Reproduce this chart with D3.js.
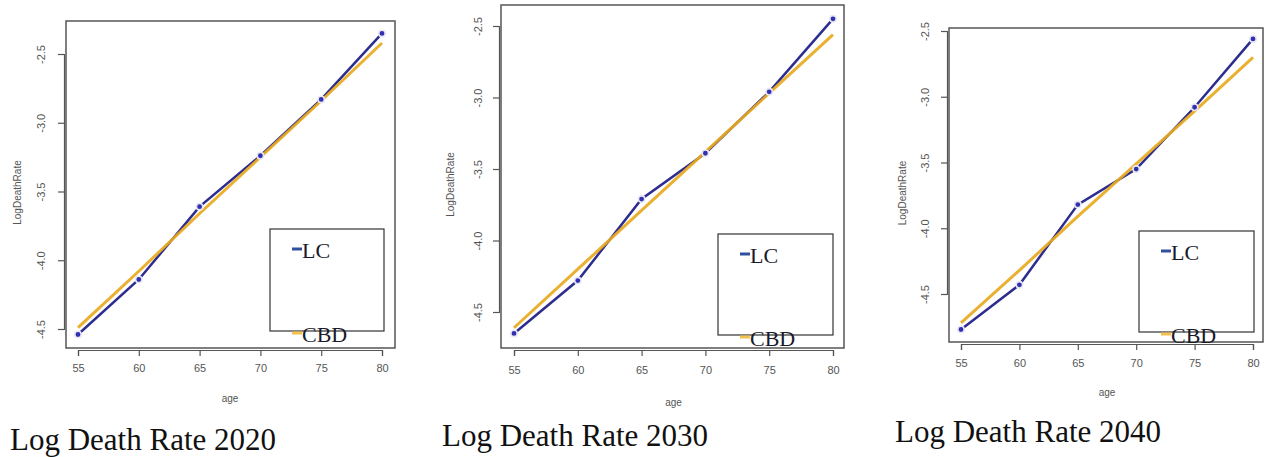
<!DOCTYPE html>
<html>
<head>
<meta charset="utf-8">
<script src="https://cdn.jsdelivr.net/npm/d3@7"></script>
<style>
  body { margin: 0; background: #fff; }
  svg { display: block; }
</style>
</head>
<body>
<svg id="chart" width="1265" height="457"></svg>
<script>
// ages on the x axis
const ages = [55, 60, 65, 70, 75, 80];
const yTicks = [-4.5, -4.0, -3.5, -3.0, -2.5];

// LC model (blue, with points)
const lc2020 = [-4.54, -4.14, -3.61, -3.24, -2.83, -2.35];
const lc2030 = [-4.65, -4.28, -3.71, -3.39, -2.96, -2.45];
const lc2040 = [-4.77, -4.43, -3.82, -3.55, -3.08, -2.56];

// CBD model (orange, straight)
const cbd2020 = [-4.49, -4.08, -3.66, -3.25, -2.84, -2.42];
const cbd2030 = [-4.61, -4.20, -3.79, -3.38, -2.97, -2.56];
const cbd2040 = [-4.72, -4.32, -3.91, -3.51, -3.11, -2.70];

const titles = ["Log Death Rate 2020", "Log Death Rate 2030", "Log Death Rate 2040"];

// pixel layout of each panel (box, tick anchors, legend, title)
var panels = [
    { lc: lc2020, cbd: cbd2020, title: titles[0],
      box: [66, 21, 395, 348], x55: 78, x80: 382, y45: 329, y25: 54,
      tickLabX: 45, tickLabY: 368, ageY: 398, ylabX: 17,
      legend: [270, 229, 384, 331], titleX: 10, titleY: 450 },
    { lc: lc2030, cbd: cbd2030, title: titles[1],
      box: [501, 5, 844, 348], x55: 514, x80: 833, y45: 312, y25: 26,
      tickLabX: 482, tickLabY: 370, ageY: 402, ylabX: 450,
      legend: [718, 234, 833, 335], titleX: 442, titleY: 446 },
    { lc: lc2040, cbd: cbd2040, title: titles[2],
      box: [949, 28, 1263, 342], x55: 961, x80: 1253, y45: 294, y25: 31,
      tickLabX: 929, tickLabY: 363, ageY: 392, ylabX: 902,
      legend: [1139, 231, 1254, 332], titleX: 895, titleY: 442 }
];

var svg = d3.select("#chart");
var axisColor = "#555";
var labelColor = "#555";

function drawPanel(p) {
    var g = svg.append("g");
    var b = p.box;

    var x = d3.scaleLinear().domain([55, 80]).range([p.x55, p.x80]);
    var y = d3.scaleLinear().domain([-4.5, -2.5]).range([p.y45, p.y25]);

    // plot frame
    g.append("rect")
        .attr("x", b[0]).attr("y", b[1])
        .attr("width", b[2] - b[0]).attr("height", b[3] - b[1])
        .attr("fill", "none")
        .attr("stroke", axisColor)
        .attr("stroke-width", 1.5);

    // x axis (ticks outside box, like R)
    var xAxis = d3.axisBottom(x).tickValues(ages).tickSize(6).tickFormat(d3.format("d"));
    var xg = g.append("g")
        .attr("transform", "translate(0," + (b[3] + 2) + ")")
        .call(xAxis);
    xg.select(".domain").attr("stroke", axisColor).attr("stroke-width", 1.2);
    xg.selectAll(".tick line").attr("stroke", axisColor).attr("stroke-width", 1.2);
    xg.selectAll(".tick text")
        .attr("y", p.tickLabY - b[3] - 2)
        .attr("dy", "0.35em")
        .attr("fill", labelColor)
        .style("font-family", "Arial, 'Liberation Sans', sans-serif")
        .style("font-size", "11px");

    // y axis
    var yAxis = d3.axisLeft(y).tickValues(yTicks).tickSize(6).tickFormat(d3.format(".1f"));
    var yg = g.append("g")
        .attr("transform", "translate(" + (b[0] - 2) + ",0)")
        .call(yAxis);
    yg.select(".domain").attr("stroke", axisColor).attr("stroke-width", 1.2);
    yg.selectAll(".tick line").attr("stroke", axisColor).attr("stroke-width", 1.2);
    yg.selectAll(".tick text").remove();
    yg.selectAll(".tick").append("text")
        .attr("transform", "translate(" + (p.tickLabX - b[0] + 2) + ",0) rotate(-90)")
        .attr("text-anchor", "middle")
        .attr("fill", labelColor)
        .style("font-family", "Arial, 'Liberation Sans', sans-serif")
        .style("font-size", "11px")
        .text(function (d) { return d3.format(".1f")(d).replace("−", "-"); });

    // axis titles
    g.append("text")
        .attr("x", (p.x55 + p.x80) / 2)
        .attr("y", p.ageY)
        .attr("text-anchor", "middle")
        .attr("dy", "0.35em")
        .attr("fill", labelColor)
        .style("font-family", "Arial, 'Liberation Sans', sans-serif")
        .style("font-size", "10px")
        .text("age");
    g.append("text")
        .attr("transform", "translate(" + p.ylabX + "," + ((b[1] + b[3]) / 2 + 8) + ") rotate(-90)")
        .attr("text-anchor", "middle")
        .attr("dy", "0.35em")
        .attr("fill", labelColor)
        .style("font-family", "Arial, 'Liberation Sans', sans-serif")
        .style("font-size", "10px")
        .text("LogDeathRate");

    var line = d3.line()
        .x(function (d, i) { return x(ages[i]); })
        .y(function (d) { return y(d); });

    // LC line
    g.append("path")
        .datum(p.lc)
        .attr("d", line)
        .attr("fill", "none")
        .attr("stroke", "#2d2d8f")
        .attr("stroke-width", 2.5);

    // CBD line
    g.append("path")
        .datum(p.cbd)
        .attr("d", line)
        .attr("fill", "none")
        .attr("stroke", "#e8a91e")
        .attr("stroke-width", 3)
        .attr("stroke-opacity", 0.92);

    // LC points, with a light gap round them as in R type="b"
    g.selectAll(".pt")
        .data(p.lc)
        .enter()
        .append("circle")
        .attr("class", "pt")
        .attr("cx", function (d, i) { return x(ages[i]); })
        .attr("cy", function (d) { return y(d); })
        .attr("r", 3.2)
        .attr("fill", "#3030b0")
        .attr("stroke", "#e8e8f4")
        .attr("stroke-width", 1.6);

    // legend
    var l = p.legend;
    g.append("rect")
        .attr("x", l[0]).attr("y", l[1])
        .attr("width", l[2] - l[0]).attr("height", l[3] - l[1])
        .attr("fill", "#fff")
        .attr("stroke", "#333")
        .attr("stroke-width", 1.2);

    var keys = ["LC", "CBD"];
    var keyColors = ["#2f4f9f", "#f2c14e"];
    var keyY = [l[1] + 21, l[3] + 3];
    for (let i = 0; i < keys.length; i++) {
        g.append("line")
            .attr("x1", l[0] + 22).attr("x2", l[0] + 32)
            .attr("y1", keyY[i] - 1).attr("y2", keyY[i] - 1)
            .attr("stroke", keyColors[i])
            .attr("stroke-width", 3);
        g.append("text")
            .attr("x", l[0] + 32)
            .attr("y", keyY[i])
            .attr("dy", "0.35em")
            .attr("fill", "#1a1a2a")
            .style("font-family", "'Liberation Serif', 'Times New Roman', serif")
            .style("font-size", "22px")
            .text(keys[i]);
    }

    // panel caption
    g.append("text")
        .attr("x", p.titleX)
        .attr("y", p.titleY)
        .attr("fill", "#111")
        .style("font-family", "'Liberation Serif', 'Times New Roman', serif")
        .style("font-size", "31px")
        .text(p.title);
}

panels.forEach(drawPanel);
</script>
</body>
</html>
